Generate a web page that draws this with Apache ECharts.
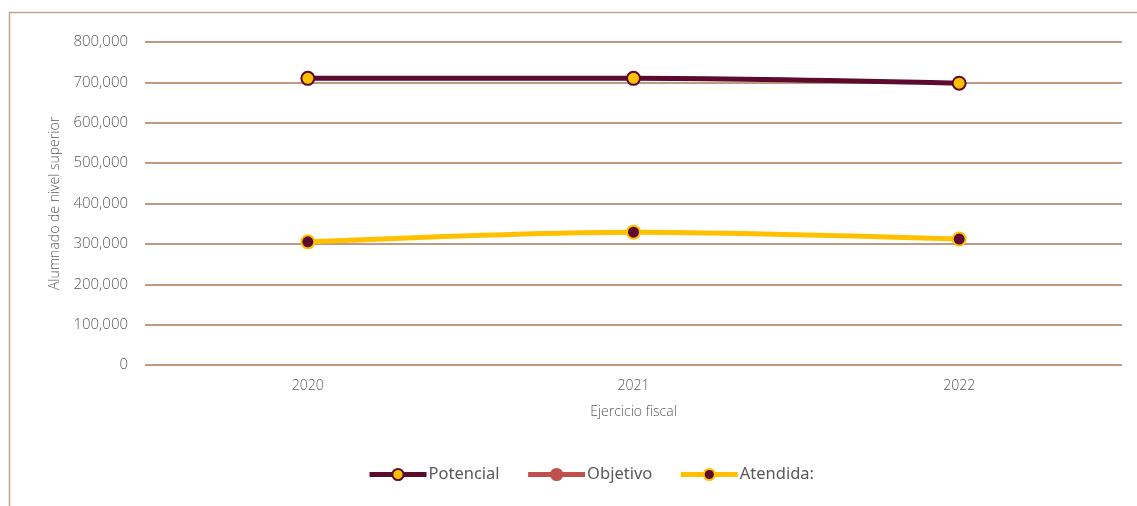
<!DOCTYPE html>
<html><head><meta charset="utf-8">
<script src="https://cdn.jsdelivr.net/npm/echarts@6/dist/echarts.min.js"></script>
<style>html,body{margin:0;padding:0;background:#fff}#c{width:1137px;height:506px}</style>
</head><body><div id="c"></div>
<script>
const categories = ['2020', '2021', '2022'];
const potencial = [710000, 710000, 698000];
const objetivo = [];
const atendida = [305000, 329000, 312000];
const yTicks = [0, 100000, 200000, 300000, 400000, 500000, 600000, 700000, 800000];

const chart = echarts.init(document.getElementById('c'));
const grid = '#c09a80';
const ff = 'Open Sans';
chart.setOption({
  animation: false,
  graphic: [{type: 'rect', shape: {x: 9.5, y: 12.5, width: 1140, height: 500}, style: {fill: 'none', stroke: '#c4a48c', lineWidth: 1.5}, silent: true}],
  grid: {left: 145, right: 15, top: 42, bottom: 141},
  legend: {
    bottom: 18, left: 362, itemWidth: 57, itemHeight: 14, itemGap: 26,
    textStyle: {color: '#595959', fontSize: 16.5, fontFamily: 'Noto Sans', padding: [0, 0, 0, -3]},
    data: [
      {name: 'Potencial', lineStyle: {width: 5}},
      {name: 'Objetivo', lineStyle: {width: 5}},
      {name: 'Atendida:', lineStyle: {width: 5}}
    ]
  },
  xAxis: {
    type: 'category', data: categories, boundaryGap: true,
    name: 'Ejercicio fiscal', nameLocation: 'middle', nameGap: 40,
    nameTextStyle: {color: '#595959', fontSize: 14, fontFamily: ff, fontWeight: 300},
    axisLine: {show: false}, axisTick: {show: false},
    axisLabel: {color: '#595959', fontSize: 14, margin: 14, fontFamily: ff, fontWeight: 300}
  },
  yAxis: {
    type: 'value', min: yTicks[0], max: yTicks[yTicks.length - 1], interval: 100000,
    name: 'Alumnado de nivel superior', nameLocation: 'middle', nameGap: 83,
    nameTextStyle: {color: '#595959', fontSize: 14, fontFamily: ff, fontWeight: 300},
    axisLabel: {color: '#595959', fontSize: 15, margin: 17, fontFamily: ff, fontWeight: 300,
      formatter: v => v.toLocaleString('en-US')},
    splitLine: {lineStyle: {color: grid, width: 2}},
    axisLine: {show: false}, axisTick: {show: false}
  },
  series: [
    {name: 'Potencial', type: 'line', data: potencial, smooth: 0.3, z: 3,
      lineStyle: {color: '#5c0a2e', width: 5}, symbol: 'circle', symbolSize: 13,
      itemStyle: {color: '#ffc000', borderColor: '#5c0a2e', borderWidth: 2}},
    {name: 'Objetivo', type: 'line', data: objetivo, smooth: 0.3, z: 2,
      lineStyle: {color: '#c0504d', width: 5}, symbol: 'circle', symbolSize: 13,
      itemStyle: {color: '#c0504d', borderColor: '#c0504d', borderWidth: 2}},
    {name: 'Atendida:', type: 'line', data: atendida, smooth: 0.3, z: 4,
      lineStyle: {color: '#ffc000', width: 5}, symbol: 'circle', symbolSize: 13,
      itemStyle: {color: '#5c0a2e', borderColor: '#ffc000', borderWidth: 2}}
  ]
});
</script></body></html>
